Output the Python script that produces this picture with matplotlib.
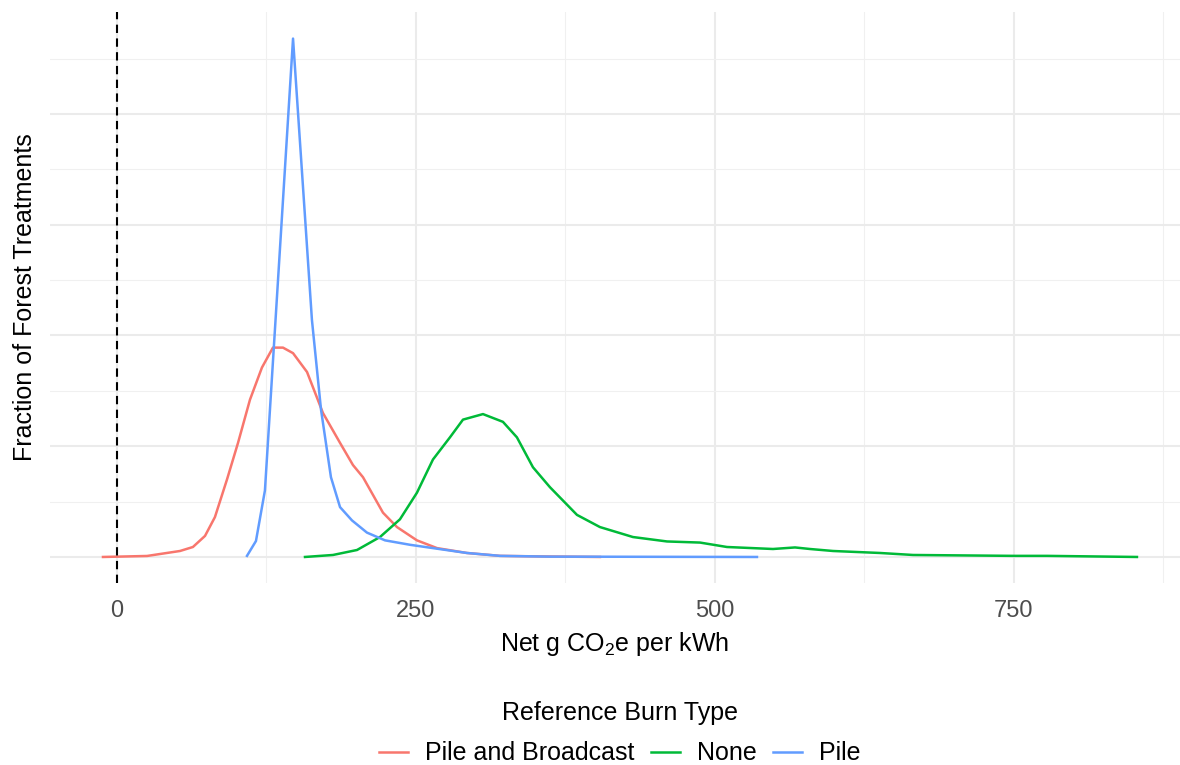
import matplotlib
matplotlib.use("Agg")
import matplotlib.pyplot as plt
from matplotlib.ticker import MultipleLocator

plt.rcParams["font.family"] = ["Liberation Sans", "DejaVu Sans"]
plt.rcParams["mathtext.fontset"] = "custom"
plt.rcParams["mathtext.rm"] = "Liberation Sans"
plt.rcParams["mathtext.it"] = "Liberation Sans:italic"

# Density curves of net emissions, one per reference burn type
series_names = ["Pile and Broadcast", "None", "Pile"]
series_colors = ["#F8766D", "#00BA38", "#619CFF"]

pile_broadcast_x = [-11.7, 25.1, 52.7, 63.5, 73.6, 81.9, 92.0, 101.2, 111.2, 121.2,
                    130.4, 138.8, 147.2, 158.9, 172.2, 186.5, 197.3, 205.7, 222.4,
                    234.1, 250.8, 267.6, 292.6, 320.2, 353.7, 403.8]
pile_broadcast_y = [0.0, 0.00009, 0.00054, 0.0009, 0.0019, 0.0036, 0.0070, 0.0103,
                    0.0142, 0.0171, 0.0189, 0.0189, 0.0184, 0.0167, 0.0130, 0.0103,
                    0.0083, 0.0072, 0.0040, 0.0027, 0.0015, 0.0008, 0.00036, 0.0001,
                    0.00005, 0.0]

none_x = [157.2, 180.6, 200.7, 219.9, 236.6, 250.8, 264.2, 278.4, 289.3, 306.0,
          322.7, 334.4, 347.8, 362.0, 384.6, 403.8, 431.4, 459.9, 487.5, 510.0,
          548.5, 566.9, 579.4, 598.7, 638.0, 665.6, 749.2, 777.6, 852.8]
none_y = [0.0, 0.00018, 0.00063, 0.0018, 0.0034, 0.0058, 0.0088, 0.0108, 0.0124,
          0.0129, 0.0122, 0.0108, 0.0081, 0.0063, 0.0038, 0.0027, 0.0018, 0.0014,
          0.0013, 0.0009, 0.00072, 0.00086, 0.00072, 0.00054, 0.00036, 0.00018,
          0.0001, 0.0001, 0.0]

pile_x = [108.7, 116.2, 123.7, 147.2, 163.0, 170.6, 178.9, 186.5, 196.5, 209.0,
          224.1, 245.0, 264.2, 292.6, 320.2, 362.0, 535.1]
pile_y = [0.0001, 0.00144, 0.0060, 0.0468, 0.0214, 0.0133, 0.0072, 0.0045, 0.0033,
          0.0022, 0.0015, 0.0011, 0.0008, 0.00036, 0.0001, 0.00003, 0.0]

x_breaks = [0, 250, 500, 750]
reference_line_x = 0

W, H = 1180, 765
fig = plt.figure(figsize=(W / 100, H / 100), dpi=100)
ax = fig.add_axes([50 / W, 1 - 583 / H, 1 - 50 / W, (583 - 12) / H])

ax.set_xlim(-56, 888.8)
ax.set_ylim(-0.00235, 0.0492)

# ggplot-style minimal grid
ax.set_facecolor("white")
for s in ax.spines.values():
    s.set_visible(False)
ax.xaxis.set_major_locator(MultipleLocator(250))
ax.xaxis.set_minor_locator(MultipleLocator(125))
ax.yaxis.set_major_locator(MultipleLocator(0.01))
ax.yaxis.set_minor_locator(MultipleLocator(0.005))
ax.grid(which="major", color="#EBEBEB", linewidth=1.5)
ax.grid(which="minor", color="#F0F0F0", linewidth=0.8)
ax.set_axisbelow(True)
ax.tick_params(which="both", length=0)
ax.set_xticks(x_breaks)
ax.set_xticklabels([str(v) for v in x_breaks])
ax.tick_params(axis="x", labelsize=17, labelcolor="#4D4D4D", pad=12)
ax.set_yticklabels([])

series = [(pile_broadcast_x, pile_broadcast_y), (none_x, none_y), (pile_x, pile_y)]
for (xs, ys), name, col in zip(series, series_names, series_colors):
    ax.plot(xs, ys, color=col, linewidth=1.8, label=name, solid_joinstyle="round")

ax.axvline(reference_line_x, color="black", linewidth=1.5, linestyle=(0, (4, 2.6)))

ax.set_xlabel("Net g CO$\\mathregular{_2}$e per kWh", fontsize=18, labelpad=6)
fig.text(25 / W, 1 - 297 / H, "Fraction of Forest Treatments", rotation=90,
         ha="center", va="center", fontsize=18)

handles, labels = ax.get_legend_handles_labels()
leg = fig.legend(handles, labels, loc="center", bbox_to_anchor=(620 / W, 1 - 733 / H),
                 ncol=3, frameon=False, title="Reference Burn Type",
                 fontsize=18, title_fontsize=18, handlelength=1.15,
                 handletextpad=0.7, columnspacing=0.65, borderpad=0)
leg._legend_box.sep = 12

fig.savefig("out.png", dpi=100)
